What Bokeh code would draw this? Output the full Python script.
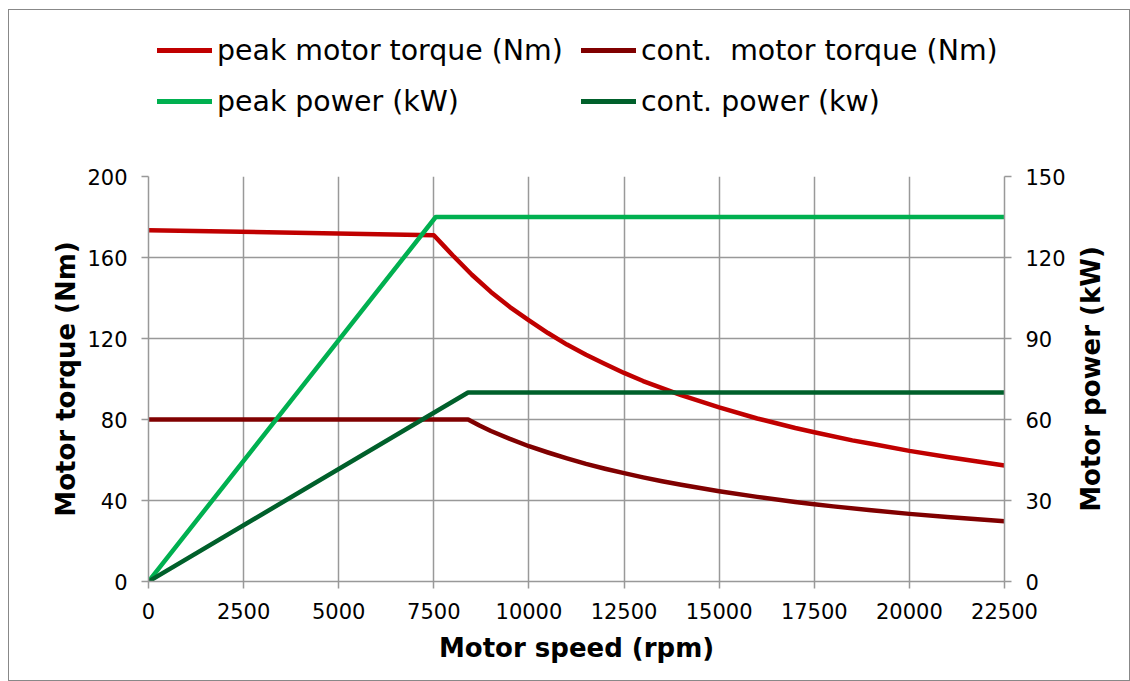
import math
from bokeh.plotting import figure
from bokeh.layouts import column, row
from bokeh.models import Range1d, LinearAxis, Legend, LegendItem, FixedTicker, Label
from bokeh.embed import file_html
from bokeh.resources import INLINE

# ---- data ----
speed_peak_torque = [0, 7500, 7750, 8000, 8500, 9000, 9500, 10000, 10500, 11000, 11500,
                     12000, 12500, 13000, 13500, 14000, 15000, 16000, 17000, 17500,
                     18500, 19000, 20000, 21000, 22500]
peak_torque = [173.5, 171, 166, 161, 151.5, 143, 135.5, 129, 122.7, 117, 112,
               107.4, 103, 99, 95.5, 92, 86, 80.5, 75.8, 73.7,
               69.7, 68, 64.5, 61.5, 57.3]

speed_cont_torque = [0, 8400, 8700, 9000, 9500, 10000, 10500, 11000, 11500, 12000, 12500,
                     13000, 13500, 14000, 15000, 16000, 17000, 17500, 18000, 19000,
                     20000, 21000, 22500]
cont_torque = [80, 80, 77, 74.3, 70.4, 66.8, 63.7, 60.8, 58.1, 55.7, 53.5,
               51.4, 49.5, 47.8, 44.6, 41.8, 39.3, 38.2, 37.1, 35.2,
               33.4, 31.8, 29.7]

speed_peak_power = [0, 7550, 22500]
peak_power = [0, 135, 135]

speed_cont_power = [0, 8400, 22500]
cont_power = [0, 70, 70]

x_ticks = [0, 2500, 5000, 7500, 10000, 12500, 15000, 17500, 20000, 22500]
torque_ticks = [0, 40, 80, 120, 160, 200]
power_ticks = [0, 30, 60, 90, 120, 150]

labels = ["peak motor torque (Nm)", "cont.  motor torque (Nm)",
          "peak power (kW)", "cont. power (kw)"]
colors = ["#C00000", "#800000", "#00B050", "#00602B"]
x_title = "Motor speed (rpm)"
y_title = "Motor torque (Nm)"
y2_title = "Motor power (kW)"

FONT = "DejaVu Sans"
GRID = "#999999"
LW = 4.5

series = [(speed_peak_torque, peak_torque), (speed_cont_torque, cont_torque),
          (speed_peak_power, peak_power), (speed_cont_power, cont_power)]

# ---- main chart ----
p = figure(width=1065, height=540, output_backend="svg", toolbar_location=None,
           x_range=Range1d(0, 22500), y_range=Range1d(0, 200),
           min_border_left=139, min_border_right=70, min_border_top=36,
           min_border_bottom=99)
p.outline_line_color = None
p.background_fill_color = "white"
p.border_fill_color = "white"
p.extra_y_ranges = {"power": Range1d(0, 150)}

for i, (xs, ys) in enumerate(series):
    kw = {} if i < 2 else {"y_range_name": "power"}
    p.line(xs, ys, line_color=colors[i], line_width=LW,
           line_join="round", line_cap="round", **kw)

def style_axis(ax, standoff, label_standoff):
    ax.axis_line_color = GRID
    ax.axis_line_width = 1.5
    ax.major_tick_line_color = GRID
    ax.major_tick_line_width = 1.5
    ax.major_tick_out = 7
    ax.major_tick_in = 0
    ax.minor_tick_line_color = None
    ax.major_label_text_font = FONT
    ax.major_label_text_font_size = "21px"
    ax.major_label_text_color = "black"
    ax.major_label_standoff = standoff
    ax.axis_label_text_font = FONT
    ax.axis_label_text_font_size = "26px"
    ax.axis_label_text_font_style = "bold"
    ax.axis_label_text_color = "black"
    ax.axis_label_standoff = label_standoff

xa = p.xaxis[0]
xa.ticker = FixedTicker(ticks=x_ticks)
xa.axis_label = x_title
style_axis(xa, 14, 11)

ya = p.yaxis[0]
ya.ticker = FixedTicker(ticks=torque_ticks)
ya.axis_label = y_title
style_axis(ya, 14, 3)

ra = LinearAxis(y_range_name="power", ticker=FixedTicker(ticks=power_ticks))
style_axis(ra, 14, 8)
p.add_layout(ra, "right")

p.xgrid.ticker = FixedTicker(ticks=x_ticks)
p.ygrid.ticker = FixedTicker(ticks=torque_ticks)
for g in (p.xgrid[0], p.ygrid[0]):
    g.grid_line_color = GRID
    g.grid_line_width = 1.5

# ---- right-hand title strip (text reads bottom to top) ----
side = figure(width=55, height=540, output_backend="svg", toolbar_location=None,
              x_range=Range1d(0, 55), y_range=Range1d(0, 1),
              x_axis_location=None, y_axis_location=None,
              min_border_left=0, min_border_right=0, min_border_top=36, min_border_bottom=99)
side.outline_line_color = None
side.grid.visible = False
side.add_layout(Label(x=16, y=0.5, text=y2_title, angle=math.pi / 2,
                      text_align="center", text_baseline="middle",
                      text_font=FONT, text_font_size="26px", text_font_style="bold",
                      text_color="black"))

# ---- legend strip above the chart (its lines lie outside its ranges) ----
lg = figure(width=1120, height=130, output_backend="svg", toolbar_location=None,
            x_range=Range1d(-2, -1), y_range=Range1d(-2, -1),
            x_axis_location=None, y_axis_location=None,
            min_border_left=139, min_border_right=125, min_border_top=0, min_border_bottom=0)
lg.outline_line_color = None
lg.grid.visible = False
lg_lines = [lg.line(xs, ys, line_color=colors[i], line_width=5, line_cap="round")
            for i, (xs, ys) in enumerate(series)]

legend = Legend(items=[LegendItem(label=l, renderers=[r]) for l, r in zip(labels, lg_lines)],
                orientation="horizontal", ncols=2, location=(9, 15),
                padding=0, margin=0, spacing=3,
                glyph_width=55, glyph_height=48, label_height=48, label_width=361,
                label_standoff=5, border_line_color=None, background_fill_alpha=0,
                label_text_font=FONT, label_text_font_size="28.4px", label_text_color="black")
lg.add_layout(legend, "center")

layout = column(lg, row(p, side, spacing=0), spacing=0)
layout.styles = {"border": "1px solid #888888", "margin-left": "8px", "margin-top": "9px"}

open("out.html", "w").write(file_html(layout, INLINE))
